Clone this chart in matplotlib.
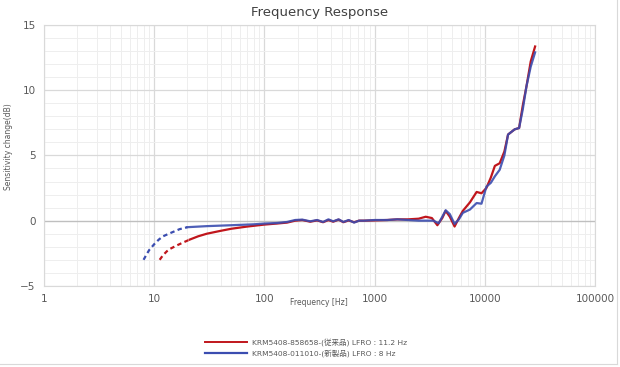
import matplotlib
matplotlib.use('Agg')
import matplotlib.pyplot as plt
from matplotlib.ticker import LogLocator, MultipleLocator, FixedLocator, FixedFormatter
from matplotlib.lines import Line2D

plt.rcParams['font.family'] = ['DejaVu Sans', 'Noto Sans CJK JP']

# ---- data ----
old_label = 'KRM5408-858658-(従来品) LFRO : 11.2 Hz'
new_label = 'KRM5408-011010-(新製品) LFRO : 8 Hz'

# below LFRO region (dashed)
red_dash_f = [11.2, 12, 13, 14, 16, 18, 21]
red_dash_db = [-3.0, -2.65, -2.35, -2.15, -1.9, -1.7, -1.45]
blue_dash_f = [8, 8.5, 9, 10, 11, 12, 14, 17, 20]
blue_dash_db = [-3.0, -2.6, -2.25, -1.8, -1.45, -1.2, -0.95, -0.65, -0.5]

red_f = [21, 25, 30, 40, 50, 70, 100, 130, 160, 190, 220, 260, 300, 340, 380,
         420, 470, 520, 580, 650, 720, 800, 1000, 1300, 1600, 2000, 2500, 2900,
         3300, 3700, 4100, 4400, 4800, 5300, 5800, 6300, 7300, 8400, 9300, 10300,
         11300, 12300, 13600, 15000, 16200, 18600, 20400, 22000, 23800, 26000, 28500]
red_db = [-1.45, -1.2, -1.0, -0.78, -0.62, -0.45, -0.3, -0.22, -0.15, 0.0, 0.05,
          -0.08, 0.02, -0.12, 0.05, -0.08, 0.08, -0.12, 0.02, -0.12, 0.0, 0.0, 0.02,
          0.05, 0.1, 0.1, 0.15, 0.3, 0.2, -0.35, 0.2, 0.75, 0.3, -0.45, 0.2, 0.75,
          1.4, 2.2, 2.1, 2.5, 3.3, 4.2, 4.4, 5.3, 6.6, 7.0, 7.1, 8.8, 10.3, 12.2, 13.35]

blue_f = [20, 30, 50, 80, 100, 130, 160, 190, 220, 260, 300, 340, 380, 420, 470,
          520, 580, 650, 720, 800, 1000, 1300, 1600, 2000, 2500, 3000, 3400, 3800,
          4100, 4400, 4800, 5300, 5800, 6300, 7300, 8400, 9300, 10300, 11300, 12300,
          13600, 15000, 16200, 18600, 20400, 22000, 23800, 26000, 28500]
blue_db = [-0.5, -0.42, -0.35, -0.28, -0.22, -0.18, -0.1, 0.05, 0.08, -0.05, 0.05,
           -0.1, 0.1, -0.05, 0.1, -0.1, 0.05, -0.15, 0.0, 0.0, 0.05, 0.05, 0.1, 0.05,
           0.0, 0.0, 0.0, -0.2, 0.3, 0.8, 0.5, -0.25, 0.1, 0.6, 0.85, 1.35, 1.3, 2.6,
           2.9, 3.4, 3.9, 5.0, 6.6, 7.0, 7.1, 8.5, 10.3, 11.8, 12.9]

x_ticks = [1, 10, 100, 1000, 10000, 100000]
x_tick_labels = ['1', '10', '100', '1000', '10000', '100000']
y_ticks = [-5, 0, 5, 10, 15]

red = '#C0161C'
blue = '#3B4DB0'
txt = '#595959'

fig = plt.figure(figsize=(6.2, 3.67), dpi=100)
ax = fig.add_axes([0.071, 0.221, 0.889, 0.711])

ax.set_xscale('log')
ax.set_xlim(1, 100000)
ax.set_ylim(-5, 15)

ax.xaxis.set_major_locator(FixedLocator(x_ticks))
ax.xaxis.set_major_formatter(FixedFormatter(x_tick_labels))
ax.xaxis.set_minor_locator(LogLocator(base=10, subs=range(2, 10), numticks=20))
ax.xaxis.set_minor_formatter(FixedFormatter([]))
ax.yaxis.set_major_locator(FixedLocator(y_ticks))
ax.yaxis.set_minor_locator(MultipleLocator(1))

ax.grid(which='major', color='#d9d9d9', lw=0.9)
ax.grid(which='minor', color='#eeeeee', lw=0.7)
ax.axhline(0, color='#bfbfbf', lw=0.9, zorder=1)
ax.set_axisbelow(True)
for s in ax.spines.values():
    s.set_color('#d9d9d9')
    s.set_linewidth(0.8)

ax.tick_params(which='both', length=0, colors=txt, labelsize=7.5, pad=6)

ax.plot(red_dash_f, red_dash_db, color=red, lw=1.6, dashes=(2.0, 1.5))
ax.plot(blue_dash_f, blue_dash_db, color=blue, lw=1.6, dashes=(2.0, 1.5))
ax.plot(red_f, red_db, color=red, lw=1.6)
ax.plot(blue_f, blue_db, color=blue, lw=1.6, alpha=0.9)

fig.text(0.515, 0.985, 'Frequency Response', ha='center', va='top', fontsize=9.5, color='#404040')
fig.text(0.515, 0.175, 'Frequency [Hz]', ha='center', va='center', fontsize=5.5, color=txt)
fig.text(0.013, 0.60, 'Sensitivity change(dB)', ha='center', va='center', rotation=90, fontsize=5.5, color=txt)

handles = [Line2D([], [], color=red, lw=1.4), Line2D([], [], color=blue, lw=1.6)]
fig.legend(handles, [old_label, new_label], loc='center left', bbox_to_anchor=(0.32, 0.052),
           frameon=False, fontsize=5.4, handlelength=5.6, labelspacing=0.45, handletextpad=0.6,
           labelcolor=txt)

# chart outer border
fig.add_artist(Line2D([0, 0.995], [0.008, 0.008], transform=fig.transFigure, color='#d9d9d9', lw=0.8))
fig.add_artist(Line2D([0.995, 0.995], [0.008, 1.0], transform=fig.transFigure, color='#d9d9d9', lw=0.8))

fig.savefig('out.png', dpi=100)
